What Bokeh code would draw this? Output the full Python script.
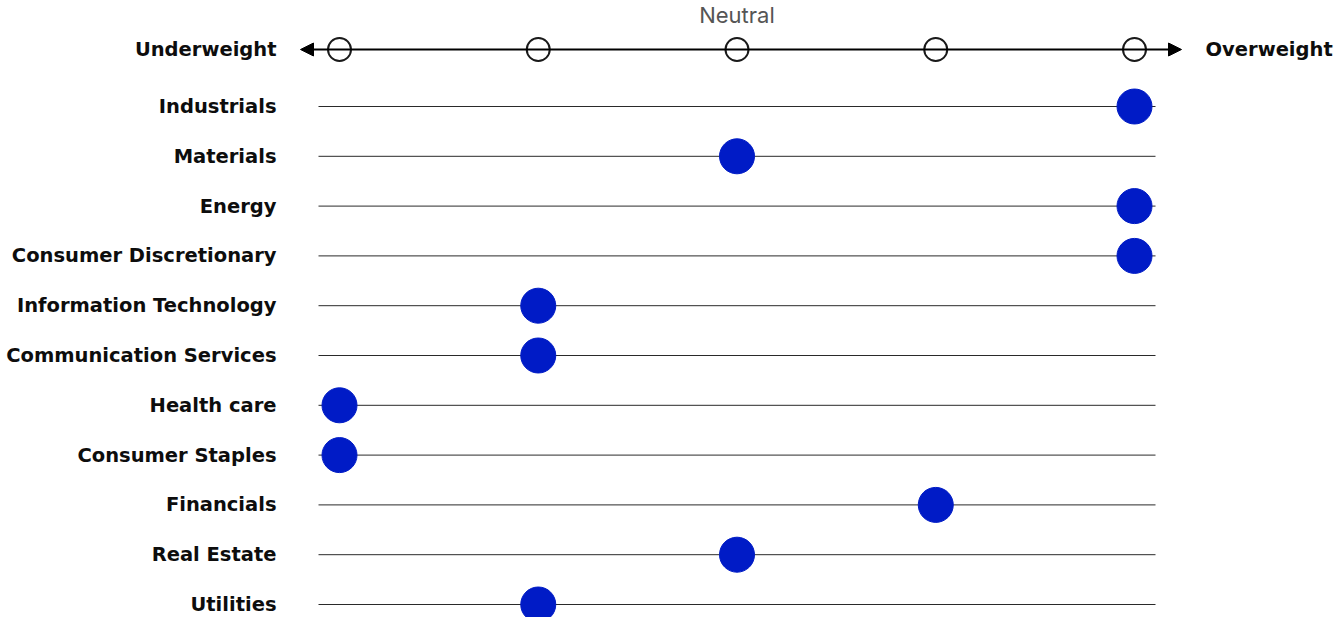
from bokeh.plotting import figure
from bokeh.models import Range1d, ColumnDataSource, Arrow, NormalHead
from bokeh.core.properties import value
from bokeh.embed import file_html
from bokeh.resources import INLINE

sectors = ["Industrials", "Materials", "Energy", "Consumer Discretionary",
           "Information Technology", "Communication Services", "Health care",
           "Consumer Staples", "Financials", "Real Estate", "Utilities"]
ratings = [2, 0, 2, 2, -1, -1, -2, -2, 1, 0, -1]
scale_points = [-2, -1, 0, 1, 2]
scale_left = "Underweight"
scale_right = "Overweight"
scale_mid = "Neutral"

W, H = 1334, 617
unit = 198.75
x0 = -2 - 339 / unit
row = 49.8
y_top = -106 / row
y_bot = (617 - 106) / row

p = figure(width=W, height=H, output_backend="svg", toolbar_location=None,
           x_range=Range1d(x0, x0 + W / unit), y_range=Range1d(y_bot, y_top),
           min_border=0, outline_line_color=None)
p.axis.visible = False
p.grid.visible = False

rows = list(range(len(sectors)))
src = ColumnDataSource(dict(sector=sectors, rating=ratings, y=rows))

header_y = -57 / row
line_l = -2 - 21 / unit
line_r = 2 + 21 / unit
label_x = -2 - 63 / unit

# row lines
p.segment(x0=line_l, x1=line_r, y0="y", y1="y", source=src, line_color="#2a2a2a", line_width=1)

# labels
font = value("DejaVu Sans")
p.text(x=label_x, y="y", text="sector", source=src, text_align="right", text_baseline="middle",
       text_font=font, text_font_style="bold", text_font_size="19.5px", text_color="#0d0d0d")

# top scale
p.add_layout(Arrow(x_start=-2 - 39 / unit, x_end=2 + 47 / unit, y_start=header_y, y_end=header_y,
                   line_color="black", line_width=2,
                   start=NormalHead(size=13, fill_color="black", line_color="black"),
                   end=NormalHead(size=13, fill_color="black", line_color="black")))
sp = ColumnDataSource(dict(x=scale_points, y=[header_y] * len(scale_points)))
p.scatter(x="x", y="y", source=sp, size=23, fill_color="white", line_color="#1a1a1a", line_width=2)

p.text(x=[label_x], y=[header_y], text=[scale_left], text_align="right", text_baseline="middle",
       text_font=font, text_font_style="bold", text_font_size="19.5px", text_color="#0d0d0d")
p.text(x=[2 + 71 / unit], y=[header_y], text=[scale_right], text_align="left", text_baseline="middle",
       text_font=font, text_font_style="bold", text_font_size="19.5px", text_color="#0d0d0d")
p.text(x=[0], y=[-92 / row], text=[scale_mid], text_align="center", text_baseline="middle",
       text_font=value("Inter"), text_font_size="22px", text_color="#555555")

# dots
p.scatter(x="rating", y="y", source=src, size=35, fill_color="#001BC6", line_color="#001BC6")

open("out.html", "w").write(file_html(p, INLINE))
